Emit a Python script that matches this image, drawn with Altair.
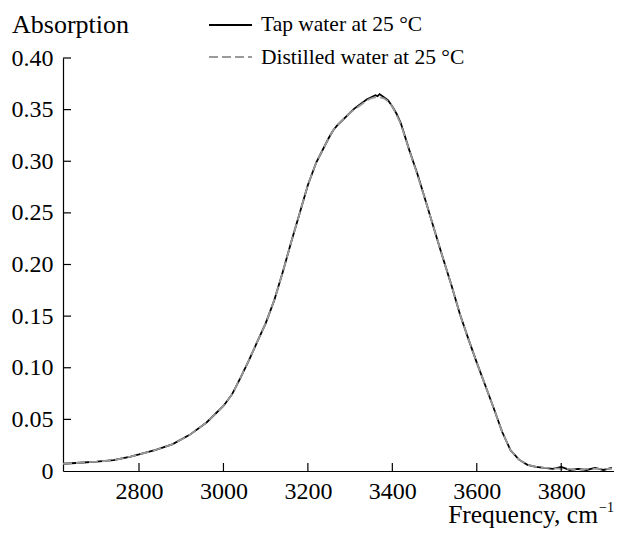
import altair as alt
import pandas as pd

freq = [2620, 2660, 2700, 2740, 2780, 2800, 2840, 2880, 2920, 2960, 3000, 3020,
        3040, 3060, 3080, 3100, 3120, 3140, 3160, 3180, 3200, 3220, 3240, 3250,
        3260, 3270, 3280, 3290, 3300, 3310, 3320, 3330, 3340, 3350, 3360, 3365,
        3370, 3380, 3390, 3400, 3410, 3420, 3440, 3460, 3480, 3500, 3520, 3540,
        3560, 3580, 3600, 3620, 3640, 3660, 3680, 3700, 3720, 3740, 3760, 3780,
        3800, 3820, 3840, 3860, 3880, 3900, 3920]
tap = [0.007, 0.008, 0.009, 0.0105, 0.014, 0.016, 0.0205, 0.026, 0.035, 0.047,
       0.063, 0.074, 0.090, 0.107, 0.125, 0.143, 0.165, 0.192, 0.221, 0.249,
       0.277, 0.299, 0.315, 0.323, 0.330, 0.335, 0.339, 0.343, 0.347, 0.351,
       0.354, 0.357, 0.360, 0.362, 0.364, 0.363, 0.365, 0.362, 0.359, 0.353,
       0.346, 0.337, 0.311, 0.287, 0.260, 0.233, 0.206, 0.180, 0.152, 0.128,
       0.105, 0.083, 0.061, 0.038, 0.020, 0.011, 0.006, 0.004, 0.003, 0.002,
       0.004, 0.001, 0.002, 0.001, 0.003, 0.001, 0.003]
distilled = [0.007, 0.008, 0.009, 0.0105, 0.014, 0.016, 0.0205, 0.026, 0.035, 0.047,
             0.063, 0.074, 0.090, 0.107, 0.125, 0.143, 0.165, 0.192, 0.221, 0.249,
             0.277, 0.299, 0.315, 0.323, 0.330, 0.335, 0.339, 0.343, 0.347, 0.350,
             0.353, 0.356, 0.359, 0.361, 0.362, 0.362, 0.362, 0.361, 0.358, 0.353,
             0.345, 0.336, 0.311, 0.286, 0.260, 0.233, 0.206, 0.180, 0.152, 0.128,
             0.105, 0.083, 0.061, 0.038, 0.020, 0.011, 0.006, 0.004, 0.003, 0.003,
             0.002, 0.002, 0.001, 0.002, 0.002, 0.002, 0.002]
x_ticks = [2800, 3000, 3200, 3400, 3600, 3800]
y_ticks = [0, 0.05, 0.10, 0.15, 0.20, 0.25, 0.30, 0.35, 0.40]
y_inner_ticks = [0.05, 0.10, 0.15, 0.20, 0.25, 0.30, 0.35, 0.40]
series_names = ["Tap water at 25 °C", "Distilled water at 25 °C"]

W, H = 551, 413
FONT = "Liberation Serif"
xs = alt.Scale(domain=[2620, 3925], nice=False, zero=False)
ys = alt.Scale(domain=[0, 0.40], nice=False)

df = pd.DataFrame({"freq": freq, "tap": tap, "dist": distilled})

x_axis = alt.Axis(values=x_ticks, ticks=False, grid=False, labelPadding=8,
                  labelFontSize=24, labelFont=FONT, labelColor="black",
                  domainColor="black", domainWidth=1.2, title=None, format="d",
                  labelFlush=False, labelOverlap=False)
y_axis = alt.Axis(values=y_ticks, ticks=False, grid=False, labelPadding=10,
                  labelFontSize=24, labelFont=FONT, labelColor="black",
                  domainColor="black", domainWidth=1.2, title=None,
                  labelExpr="datum.value == 0 ? '0' : format(datum.value, '.2f')",
                  labelOverlap=False)

tap_line = alt.Chart(df).mark_line(color="black", strokeWidth=1.8).encode(
    x=alt.X("freq:Q", scale=xs, axis=x_axis),
    y=alt.Y("tap:Q", scale=ys, axis=y_axis),
)
dist_line = alt.Chart(df).mark_line(color="#9a9a9a", strokeWidth=1.8,
                                    strokeDash=[9, 4]).encode(
    x=alt.X("freq:Q", scale=xs, axis=x_axis),
    y=alt.Y("dist:Q", scale=ys, axis=y_axis),
)

xt = alt.Chart(pd.DataFrame({"t": x_ticks})).mark_rule(color="black", strokeWidth=1.2).encode(
    x=alt.X("t:Q", scale=xs, axis=x_axis), y=alt.value(H), y2=alt.value(H - 8))
yt = alt.Chart(pd.DataFrame({"t": y_inner_ticks})).mark_rule(color="black", strokeWidth=1.2).encode(
    y=alt.Y("t:Q", scale=ys, axis=y_axis), x=alt.value(0), x2=alt.value(8))

def txt(s, x, y, size=23, align="left"):
    return alt.Chart(pd.DataFrame({"s": [s]})).mark_text(
        font=FONT, fontSize=size, align=align, baseline="alphabetic", color="black"
    ).encode(x=alt.value(x), y=alt.value(y), text="s:N")

ytitle = txt("Absorption", -51, -25, size=26)
xtitle = txt("Frequency, cm", 535, 465, size=25.5, align="right")
xsup = txt("−1", 536, 454, size=14)

leg1_line = alt.Chart(pd.DataFrame({"a": [0]})).mark_rule(color="black", strokeWidth=1.8).encode(
    x=alt.value(146), x2=alt.value(189), y=alt.value(-33))
leg2_line = alt.Chart(pd.DataFrame({"a": [0]})).mark_rule(color="#9a9a9a", strokeWidth=1.8,
                                                          strokeDash=[9, 4]).encode(
    x=alt.value(146), x2=alt.value(189), y=alt.value(-1))
leg1_txt = txt(series_names[0], 198, -27, size=21.5)
leg2_txt = txt(series_names[1], 198, 6, size=21.5)

chart = alt.layer(tap_line, dist_line, xt, yt, ytitle, xtitle, xsup,
                  leg1_line, leg2_line, leg1_txt, leg2_txt).properties(
    width=W, height=H,
    padding={"left": 55, "top": 50, "right": 0, "bottom": 60},
    autosize=alt.AutoSizeParams(type="none"),
).configure_view(stroke=None)

chart.save("out.html", embed_options={"renderer": "svg", "actions": False})
